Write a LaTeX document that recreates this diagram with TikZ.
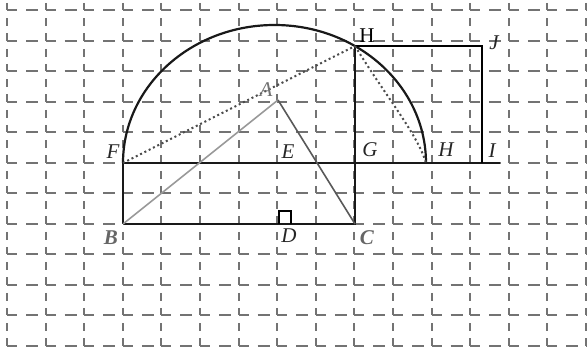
\documentclass[tikz,border=0pt]{standalone}
\usepackage{fontspec}
\setmainfont{Liberation Serif}
\usetikzlibrary{positioning}

\begin{document}
\begin{tikzpicture}[
  x=1pt, y=1pt,
  gridh/.style={draw=black!55, line width=2pt,
                dash pattern=on 10pt off 9pt on 12pt off 7.6pt},
  gridv/.style={draw=black!55, line width=2pt,
                dash pattern=on 7.5pt off 8pt on 8pt off 7pt, dash phase=7.5pt},
  mainline/.style={draw=black!90, line width=2.2pt},
  thinline/.style={draw=black, line width=1.5pt},
  dotline/.style={draw=black!70, line width=2pt, dash pattern=on 2pt off 2.8pt},
  lbl/.style={font=\fontsize{21}{23}\selectfont\itshape, inner sep=0pt, text=black!85},
]
  \useasboundingbox (0,0) rectangle (587,351);

  % dashed grid
  \begin{scope}
    \clip (0,0) rectangle (587,351);
    \foreach \i in {0,...,15}
      \draw[gridv] ({7+38.6*\i},371) -- ({7+38.6*\i},-30);
    \foreach \j in {0,...,11}
      \draw[gridh] (7,{340.5-30.5*\j}) -- (600,{340.5-30.5*\j});
  \end{scope}

  % points
  \coordinate (B) at (123,127);
  \coordinate (D) at (278,127);
  \coordinate (C) at (355,127);
  \coordinate (F) at (123,188);
  \coordinate (E) at (278,188);
  \coordinate (G) at (355,188);
  \coordinate (A) at (278,251);
  \coordinate (Ht) at (355,305);
  \coordinate (Hr) at (426,188);
  \coordinate (I) at (482,188);
  \coordinate (J) at (482,305);
  \coordinate (Iend) at (500,188);

  % figure
  \draw[mainline] (F) arc[start angle=180, end angle=0, x radius=151.5, y radius=138];
  \draw[mainline] (B) -- (F) -- (Iend);
  \draw[mainline] (B) -- (C) -- (Ht);
  \draw[thinline] (Ht) -- (J) -- (I);
  \draw[draw=black!40, line width=1.6pt] (B) -- (A);
  \draw[draw=black!65, line width=1.6pt] (A) -- (C);
  \draw[dotline] (F) -- (Ht);
  \draw[dotline] (Ht) .. controls (385,256) and (418,216) .. (Hr);
  \draw[thinline] (279,127) -- (279,140) -- (291,140) -- (291,127);

  % labels
  \node[lbl, font=\fontsize{21}{23}\selectfont, text=black] (lHt) at (367,315) {H};
  \node[lbl] (lJ) at (494,308) {J};
  \node[lbl] (lG) at (370,201) {G};
  \node[lbl] (lHr) at (446,201) {H};
  \node[lbl] (lI) at (492,200) {I};
  \node[lbl] (lE) at (288,199) {E};
  \node[lbl] (lF) at (113,199) {F};
  \node[lbl, text=black!55] (lA) at (266,261) {A};
  \node[lbl, font=\fontsize{21}{23}\selectfont\bfseries\itshape, text=black!60] (lB) at (111,113) {B};
  \node[lbl] (lD) at (289,115) {D};
  \node[lbl, font=\fontsize{21}{23}\selectfont\bfseries\itshape, text=black!60] (lC) at (367,113) {C};
\end{tikzpicture}
\end{document}
